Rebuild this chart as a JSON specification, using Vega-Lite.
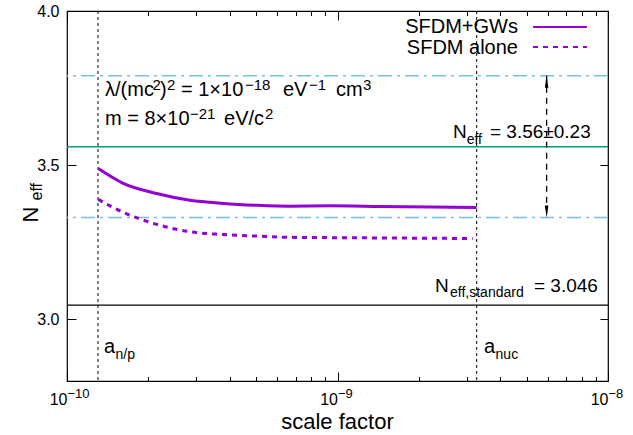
{
  "$schema": "https://vega.github.io/schema/vega-lite/v6.json",
  "width": 541,
  "height": 370,
  "autosize": {"type": "none"},
  "padding": {"left": 67, "top": 11, "right": 25, "bottom": 54},
  "background": "white",
  "config": {
    "view": {"stroke": "black", "strokeWidth": 1.2},
    "font": "Liberation Sans",
    "axis": {
      "grid": false, "domain": false, "labelColor": "black", "titleColor": "black",
      "tickColor": "black", "labelFont": "Liberation Sans", "titleFont": "Liberation Sans",
      "labelFontSize": 16, "titleFontWeight": "normal", "tickWidth": 1, "labelFlush": false
    }
  },
  "datasets": {
    "gws": [
      {"x": 1.305e-10, "y": 3.489}, {"x": 1.614e-10, "y": 3.441}, {"x": 2.146e-10, "y": 3.408},
      {"x": 2.85e-10, "y": 3.386}, {"x": 3.774e-10, "y": 3.376}, {"x": 5.027e-10, "y": 3.37},
      {"x": 6.675e-10, "y": 3.367}, {"x": 9.383e-10, "y": 3.368}, {"x": 1.436e-9, "y": 3.366},
      {"x": 2.198e-9, "y": 3.364}, {"x": 3.27e-9, "y": 3.363}
    ],
    "alone": [
      {"x": 1.305e-10, "y": 3.389}, {"x": 1.614e-10, "y": 3.347}, {"x": 2.146e-10, "y": 3.308},
      {"x": 2.85e-10, "y": 3.284}, {"x": 3.774e-10, "y": 3.275}, {"x": 5.027e-10, "y": 3.27},
      {"x": 6.675e-10, "y": 3.266}, {"x": 9.383e-10, "y": 3.265}, {"x": 1.436e-9, "y": 3.264},
      {"x": 2.198e-9, "y": 3.263}, {"x": 3.16e-9, "y": 3.262}
    ],
    "sigma": [{"y": 3.79}, {"y": 3.33}],
    "mean": [{"y": 3.56}],
    "standard": [{"y": 3.046}],
    "epochs": [{"x": 1.302e-10, "name": "a_n/p"}, {"x": 3.27e-9, "name": "a_nuc"}],
    "legendGws": [{"x": 5.28e-9, "y": 3.948}, {"x": 8.36e-9, "y": 3.948}],
    "legendAlone": [{"x": 5.28e-9, "y": 3.883}, {"x": 8.36e-9, "y": 3.883}],
    "arrow": [{"x": 5.93e-9, "top": 3.79, "bottom": 3.33}],
    "texts": [
      {"t": "λ/(mc", "x": 1.3822e-10, "y": 3.724, "role": "main"},
      {"t": "2", "x": 2.07e-10, "y": 3.7435, "role": "sup"},
      {"t": ")", "x": 2.207e-10, "y": 3.724, "role": "main"},
      {"t": "2", "x": 2.343e-10, "y": 3.7435, "role": "sup"},
      {"t": "= 1×10", "x": 2.639e-10, "y": 3.724, "role": "main"},
      {"t": "−18", "x": 4.549e-10, "y": 3.7435, "role": "sup"},
      {"t": "eV", "x": 6.288e-10, "y": 3.724, "role": "main"},
      {"t": "−1", "x": 7.844e-10, "y": 3.7435, "role": "sup"},
      {"t": "cm", "x": 9.873e-10, "y": 3.724, "role": "main"},
      {"t": "3", "x": 1.2424e-9, "y": 3.7435, "role": "sup"},
      {"t": "m = 8×10", "x": 1.3822e-10, "y": 3.6315, "role": "main"},
      {"t": "−21", "x": 2.849e-10, "y": 3.651, "role": "sup"},
      {"t": "eV/c", "x": 3.806e-10, "y": 3.6315, "role": "main"},
      {"t": "2", "x": 5.395e-10, "y": 3.651, "role": "sup"},
      {"t": "N", "x": 2.673e-9, "y": 3.5877, "role": "big"},
      {"t": "eff", "x": 3.003e-9, "y": 3.5682, "role": "sub"},
      {"t": "= 3.56±0.23", "x": 3.662e-9, "y": 3.5877, "role": "big"},
      {"t": "N", "x": 2.293e-9, "y": 3.0877, "role": "big"},
      {"t": "eff,standard", "x": 2.606e-9, "y": 3.0714, "role": "sub"},
      {"t": "= 3.046", "x": 5.325e-9, "y": 3.0877, "role": "big"},
      {"t": "a", "x": 1.37e-10, "y": 2.8896, "role": "main"},
      {"t": "n/p", "x": 1.511e-10, "y": 2.8701, "role": "sub"},
      {"t": "a", "x": 3.479e-9, "y": 2.8896, "role": "main"},
      {"t": "nuc", "x": 3.84e-9, "y": 2.8701, "role": "sub"},
      {"t": "SFDM+GWs", "x": 4.648e-9, "y": 3.9286, "role": "legend"},
      {"t": "SFDM alone", "x": 4.648e-9, "y": 3.8604, "role": "legend"}
    ]
  },
  "resolve": {"axis": {"x": "independent", "y": "independent"}},
  "layer": [
    {
      "data": {"name": "sigma"},
      "mark": {"type": "rule", "color": "#74c0ea", "strokeWidth": 1.5, "strokeDash": [14, 5, 3, 5]},
      "encoding": {
        "y": {"field": "y", "type": "quantitative", "scale": {"domain": [2.8, 4.0], "nice": false, "zero": false}, "axis": null}
      }
    },
    {
      "data": {"name": "mean"},
      "mark": {"type": "rule", "color": "#009e73", "strokeWidth": 1.5},
      "encoding": {
        "y": {"field": "y", "type": "quantitative", "scale": {"domain": [2.8, 4.0], "nice": false, "zero": false},
          "axis": {"orient": "right", "values": [3.0, 3.5, 4.0], "labels": false, "title": null, "tickSize": -8}}
      }
    },
    {
      "data": {"name": "standard"},
      "mark": {"type": "rule", "color": "black", "strokeWidth": 1.2},
      "encoding": {
        "y": {"field": "y", "type": "quantitative", "scale": {"domain": [2.8, 4.0], "nice": false, "zero": false},
          "axis": {"orient": "left", "values": [3.0, 3.5, 4.0], "format": ".1f", "tickSize": -9, "labelPadding": 17,
            "title": "N", "titleFontSize": 22, "titleAngle": -90, "titleX": -30, "titleY": 211,
            "titleAlign": "left", "titleBaseline": "alphabetic"}}
      }
    },
    {
      "data": {"name": "epochs"},
      "mark": {"type": "rule", "color": "black", "strokeWidth": 1, "strokeDash": [3, 3]},
      "encoding": {
        "x": {"field": "x", "type": "quantitative", "scale": {"type": "log", "domain": [1e-10, 1e-8], "nice": false},
          "axis": {"orient": "bottom", "values": [1e-10, 1e-9, 1e-8],
            "labelExpr": "'10'", "labelAlign": "right", "labelDx": 1,
            "tickSize": -9, "labelPadding": 19, "title": "scale factor", "titleFontSize": 22,
            "titleX": 270, "titleY": 47, "titleBaseline": "alphabetic", "titleAlign": "center"}}
      }
    },
    {
      "data": {"name": "gws"},
      "mark": {"type": "line", "color": "#9400d3", "strokeWidth": 3, "interpolate": "monotone"},
      "encoding": {
        "x": {"field": "x", "type": "quantitative", "scale": {"type": "log", "domain": [1e-10, 1e-8], "nice": false},
          "axis": {"orient": "bottom", "values": [2e-10, 3e-10, 4e-10, 5e-10, 6e-10, 7e-10, 8e-10, 9e-10, 2e-9, 3e-9, 4e-9, 5e-9, 6e-9, 7e-9, 8e-9, 9e-9],
            "labels": false, "tickSize": -4.5, "title": null}},
        "y": {"field": "y", "type": "quantitative", "scale": {"domain": [2.8, 4.0], "nice": false, "zero": false},
          "axis": {"orient": "left", "ticks": false, "labels": false, "title": "eff", "titleFontSize": 16,
            "titleAngle": -90, "titleX": -26, "titleY": 189, "titleAlign": "left", "titleBaseline": "alphabetic"}}
      }
    },
    {
      "data": {"name": "alone"},
      "mark": {"type": "line", "color": "#9400d3", "strokeWidth": 3, "strokeDash": [5, 5], "interpolate": "monotone"},
      "encoding": {
        "x": {"field": "x", "type": "quantitative", "scale": {"type": "log", "domain": [1e-10, 1e-8], "nice": false},
          "axis": {"orient": "top", "values": [1e-10, 1e-9, 1e-8], "labels": false, "tickSize": -9, "title": null}},
        "y": {"field": "y", "type": "quantitative", "scale": {"domain": [2.8, 4.0], "nice": false, "zero": false}, "axis": null}
      }
    },
    {
      "data": {"name": "legendGws"},
      "mark": {"type": "line", "color": "#9400d3", "strokeWidth": 2},
      "encoding": {
        "x": {"field": "x", "type": "quantitative", "scale": {"type": "log", "domain": [1e-10, 1e-8], "nice": false},
          "axis": {"orient": "top", "values": [2e-10, 3e-10, 4e-10, 5e-10, 6e-10, 7e-10, 8e-10, 9e-10, 2e-9, 3e-9, 4e-9, 5e-9, 6e-9, 7e-9, 8e-9, 9e-9],
            "labels": false, "tickSize": -4.5, "title": null}},
        "y": {"field": "y", "type": "quantitative", "scale": {"domain": [2.8, 4.0], "nice": false, "zero": false}, "axis": null}
      }
    },
    {
      "data": {"name": "legendAlone"},
      "mark": {"type": "line", "color": "#9400d3", "strokeWidth": 2, "strokeDash": [5, 5]},
      "encoding": {
        "x": {"field": "x", "type": "quantitative", "scale": {"type": "log", "domain": [1e-10, 1e-8], "nice": false},
          "axis": {"orient": "bottom", "values": [1e-10, 1e-9, 1e-8],
            "labelExpr": "datum.value < 3e-10 ? '−10' : datum.value < 3e-9 ? '−9' : '−8'",
            "labelAlign": "left", "labelDx": 2, "labelFontSize": 13,
            "tickSize": -9, "tickOpacity": 0, "labelPadding": 15, "title": null}},
        "y": {"field": "y", "type": "quantitative", "scale": {"domain": [2.8, 4.0], "nice": false, "zero": false}, "axis": null}
      }
    },
    {
      "data": {"name": "arrow"},
      "mark": {"type": "rule", "color": "black", "strokeWidth": 1.3, "strokeDash": [6, 5]},
      "encoding": {
        "x": {"field": "x", "type": "quantitative", "scale": {"type": "log", "domain": [1e-10, 1e-8], "nice": false}, "axis": null},
        "y": {"field": "top", "type": "quantitative", "scale": {"domain": [2.8, 4.0], "nice": false, "zero": false}, "axis": null},
        "y2": {"field": "bottom"}
      }
    },
    {
      "data": {"name": "arrow"},
      "mark": {"type": "point", "filled": true, "color": "black", "opacity": 1, "size": 144, "shape": "M0,-1L-0.3,1L0.3,1Z", "yOffset": 6},
      "encoding": {
        "x": {"field": "x", "type": "quantitative", "scale": {"type": "log", "domain": [1e-10, 1e-8], "nice": false}, "axis": null},
        "y": {"field": "top", "type": "quantitative", "scale": {"domain": [2.8, 4.0], "nice": false, "zero": false}, "axis": null}
      }
    },
    {
      "data": {"name": "arrow"},
      "mark": {"type": "point", "filled": true, "color": "black", "opacity": 1, "size": 144, "shape": "M0,1L-0.3,-1L0.3,-1Z", "yOffset": -6},
      "encoding": {
        "x": {"field": "x", "type": "quantitative", "scale": {"type": "log", "domain": [1e-10, 1e-8], "nice": false}, "axis": null},
        "y": {"field": "bottom", "type": "quantitative", "scale": {"domain": [2.8, 4.0], "nice": false, "zero": false}, "axis": null}
      }
    },
    {
      "data": {"name": "texts"},
      "transform": [{"filter": "datum.role === 'main'"}],
      "mark": {"type": "text", "align": "left", "baseline": "alphabetic", "fontSize": 20, "color": "black", "font": "Liberation Sans"},
      "encoding": {
        "x": {"field": "x", "type": "quantitative", "scale": {"type": "log", "domain": [1e-10, 1e-8], "nice": false}, "axis": null},
        "y": {"field": "y", "type": "quantitative", "scale": {"domain": [2.8, 4.0], "nice": false, "zero": false}, "axis": null},
        "text": {"field": "t"}
      }
    },
    {
      "data": {"name": "texts"},
      "transform": [{"filter": "datum.role === 'big'"}],
      "mark": {"type": "text", "align": "left", "baseline": "alphabetic", "fontSize": 19, "color": "black", "font": "Liberation Sans"},
      "encoding": {
        "x": {"field": "x", "type": "quantitative", "scale": {"type": "log", "domain": [1e-10, 1e-8], "nice": false}, "axis": null},
        "y": {"field": "y", "type": "quantitative", "scale": {"domain": [2.8, 4.0], "nice": false, "zero": false}, "axis": null},
        "text": {"field": "t"}
      }
    },
    {
      "data": {"name": "texts"},
      "transform": [{"filter": "datum.role === 'sup'"}],
      "mark": {"type": "text", "align": "left", "baseline": "alphabetic", "fontSize": 15, "color": "black", "font": "Liberation Sans"},
      "encoding": {
        "x": {"field": "x", "type": "quantitative", "scale": {"type": "log", "domain": [1e-10, 1e-8], "nice": false}, "axis": null},
        "y": {"field": "y", "type": "quantitative", "scale": {"domain": [2.8, 4.0], "nice": false, "zero": false}, "axis": null},
        "text": {"field": "t"}
      }
    },
    {
      "data": {"name": "texts"},
      "transform": [{"filter": "datum.role === 'sub'"}],
      "mark": {"type": "text", "align": "left", "baseline": "alphabetic", "fontSize": 14, "color": "black", "font": "Liberation Sans"},
      "encoding": {
        "x": {"field": "x", "type": "quantitative", "scale": {"type": "log", "domain": [1e-10, 1e-8], "nice": false}, "axis": null},
        "y": {"field": "y", "type": "quantitative", "scale": {"domain": [2.8, 4.0], "nice": false, "zero": false}, "axis": null},
        "text": {"field": "t"}
      }
    },
    {
      "data": {"name": "texts"},
      "transform": [{"filter": "datum.role === 'legend'"}],
      "mark": {"type": "text", "align": "right", "baseline": "alphabetic", "fontSize": 20, "color": "black", "font": "Liberation Sans"},
      "encoding": {
        "x": {"field": "x", "type": "quantitative", "scale": {"type": "log", "domain": [1e-10, 1e-8], "nice": false}, "axis": null},
        "y": {"field": "y", "type": "quantitative", "scale": {"domain": [2.8, 4.0], "nice": false, "zero": false}, "axis": null},
        "text": {"field": "t"}
      }
    }
  ]
}
